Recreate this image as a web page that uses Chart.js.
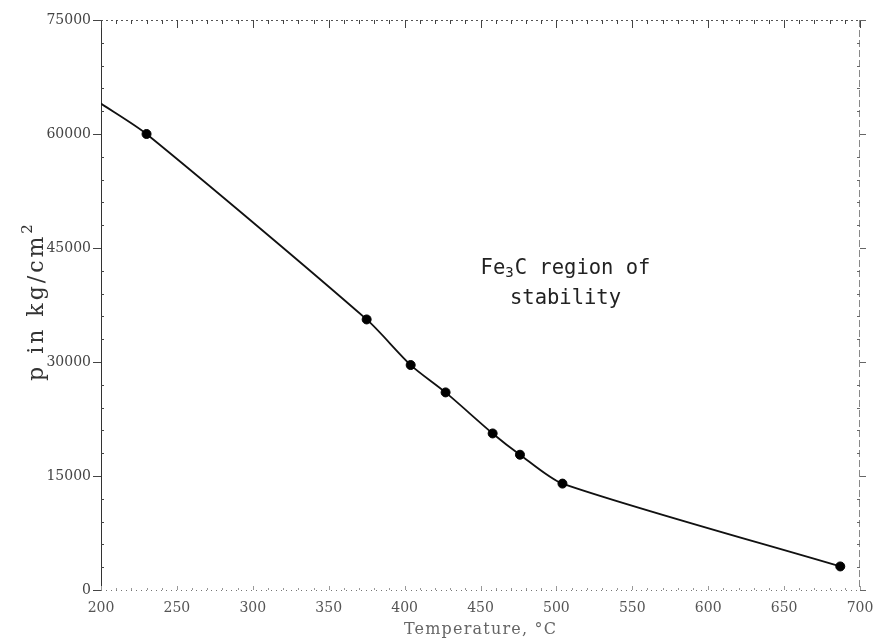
<!DOCTYPE html>
<html>
<head>
<meta charset="utf-8">
<script src="https://cdn.jsdelivr.net/npm/chart.js@4/dist/chart.umd.min.js"></script>
<style>
  html, body { margin: 0; padding: 0; background: #fff; }
  #wrap { width: 874px; height: 639px; position: relative; }
</style>
</head>
<body>
<div id="wrap"><canvas id="chart"></canvas></div>
<script>
// measured points (temperature in °C, pressure in kg/cm2)
const temperatures = [230, 375, 404, 427, 458, 476, 504, 687];
const pressures = [60000, 35600, 29600, 26000, 20600, 17800, 14000, 3100];

// the drawn curve starts at the left edge of the plot
const curveStartT = 200;
const curveStartP = 64000;

// axes
const xMin = 200, xMax = 700, xStep = 50, xMinor = 10;
const yMin = 0, yMax = 75000, yStep = 15000, yMinor = 3000;

const xTitle = 'Temperature, °C';
const yTitle = 'p in kg/cm';
const yTitleSup = '2';

const noteLine1 = ['Fe', '3', 'C region of'];
const noteLine2 = 'stability';
const noteAt = { t: 506, p: 42300 };

const points = temperatures.map((t, i) => ({ x: t, y: pressures[i] }));
const curve = [{ x: curveStartT, y: curveStartP }].concat(points);

const serif = "'DejaVu Serif', 'Liberation Serif', serif";

// ===== AXIS FRAME + TICK MARKS =====
const frame = {
  id: 'frame',
  beforeDatasetsDraw(chart) {
    const { ctx, chartArea: a, scales: { x, y } } = chart;
    ctx.save();
    ctx.lineWidth = 1;

    // left axis, solid
    ctx.strokeStyle = '#333';
    ctx.beginPath();
    ctx.moveTo(a.left + 0.5, a.top);
    ctx.lineTo(a.left + 0.5, a.bottom);
    ctx.stroke();

    // top axis, fine dots
    ctx.strokeStyle = '#555';
    ctx.setLineDash([2, 3]);
    ctx.beginPath();
    ctx.moveTo(a.left, a.top + 0.5);
    ctx.lineTo(a.right, a.top + 0.5);
    ctx.stroke();

    // bottom axis, sparse dots
    ctx.strokeStyle = '#777';
    ctx.setLineDash([1, 4]);
    ctx.beginPath();
    ctx.moveTo(a.left, a.bottom + 0.5);
    ctx.lineTo(a.right, a.bottom + 0.5);
    ctx.stroke();

    // right axis, dashed
    ctx.strokeStyle = '#888';
    ctx.setLineDash([7, 3]);
    ctx.beginPath();
    ctx.moveTo(a.right - 0.5, a.top);
    ctx.lineTo(a.right - 0.5, a.bottom);
    ctx.stroke();
    ctx.setLineDash([]);

    // top ticks (pointing down)
    ctx.strokeStyle = '#444';
    for (let v = xMin; v <= xMax; v += xMinor) {
      const px = Math.round(x.getPixelForValue(v)) + 0.5;
      const major = (v - xMin) % xStep === 0;
      ctx.beginPath();
      ctx.moveTo(px, a.top);
      ctx.lineTo(px, a.top + (major ? 8 : 4));
      ctx.stroke();
    }
    // bottom minor ticks
    ctx.strokeStyle = '#999';
    for (let v = xMin; v <= xMax; v += xMinor) {
      const px = Math.round(x.getPixelForValue(v)) + 0.5;
      const major = (v - xMin) % xStep === 0;
      ctx.beginPath();
      ctx.moveTo(px, a.bottom);
      ctx.lineTo(px, a.bottom - (major ? 4 : 2));
      ctx.stroke();
    }

    // left / right ticks
    for (let v = yMin; v <= yMax; v += yMinor) {
      const py = Math.round(y.getPixelForValue(v)) + 0.5;
      const major = v % yStep === 0;
      ctx.strokeStyle = '#444';
      ctx.beginPath();
      if (major) {
        ctx.moveTo(a.left - 8, py);
        ctx.lineTo(a.left, py);
      } else {
        ctx.moveTo(a.left, py);
        ctx.lineTo(a.left + 3, py);
      }
      ctx.stroke();
      ctx.strokeStyle = '#666';
      ctx.beginPath();
      if (major) {
        ctx.moveTo(a.right, py);
        ctx.lineTo(a.right + 6, py);
      } else {
        ctx.moveTo(a.right - 3, py);
        ctx.lineTo(a.right, py);
      }
      ctx.stroke();
    }
    ctx.restore();
  }
};

// ===== AXIS TITLES + TEXT NOTE =====
const texts = {
  id: 'texts',
  afterDraw(chart) {
    const { ctx, chartArea: a, scales: { x, y } } = chart;
    ctx.save();

    // x title
    ctx.letterSpacing = '1.2px';
    ctx.fillStyle = '#666';
    ctx.font = `16px ${serif}`;
    ctx.textAlign = 'center';
    ctx.textBaseline = 'alphabetic';
    ctx.fillText(xTitle, (a.left + a.right) / 2, 634);

    // y title, rotated, with superscript
    ctx.save();
    ctx.translate(43, (a.top + a.bottom) / 2 - 4);
    ctx.rotate(-Math.PI / 2);
    ctx.fillStyle = '#333';
    ctx.letterSpacing = '3px';
    ctx.font = `22px ${serif}`;
    const wMain = ctx.measureText(yTitle).width;
    ctx.font = `15px ${serif}`;
    const wSup = ctx.measureText(yTitleSup).width;
    let px = -(wMain + wSup) / 2;
    ctx.textAlign = 'left';
    ctx.font = `22px ${serif}`;
    ctx.fillText(yTitle, px, 0);
    ctx.font = `15px ${serif}`;
    ctx.fillText(yTitleSup, px + wMain, -11);
    ctx.restore();

    // note in the plot
    ctx.letterSpacing = '0px';
    const cx = x.getPixelForValue(noteAt.t);
    const cy = y.getPixelForValue(noteAt.p);
    const big = "20.5px 'DejaVu Sans Mono', 'Liberation Mono', monospace";
    const small = "14px 'DejaVu Sans Mono', 'Liberation Mono', monospace";
    ctx.fillStyle = '#222';
    ctx.textBaseline = 'middle';
    ctx.textAlign = 'left';
    ctx.font = big;
    const w0 = ctx.measureText(noteLine1[0]).width;
    const w2 = ctx.measureText(noteLine1[2]).width;
    ctx.font = small;
    const w1 = ctx.measureText(noteLine1[1]).width + 1;
    px = cx - (w0 + w1 + w2) / 2;
    ctx.font = big;
    ctx.fillText(noteLine1[0], px, cy);
    px += w0;
    ctx.font = small;
    ctx.fillText(noteLine1[1], px, cy + 5);
    px += w1;
    ctx.font = big;
    ctx.fillText(noteLine1[2], px, cy);
    ctx.textAlign = 'center';
    ctx.fillText(noteLine2, cx, cy + 30);
    ctx.restore();
  }
};

// ===== CHART =====
const ctx = document.getElementById('chart').getContext('2d');
new Chart(ctx, {
  type: 'scatter',
  data: {
    datasets: [
      {
        label: 'measured',
        data: points,
        backgroundColor: '#000',
        borderColor: '#000',
        pointRadius: 4.5,
        showLine: false
      },
      {
        label: 'curve',
        data: curve,
        showLine: true,
        borderColor: '#111',
        borderWidth: 1.8,
        pointRadius: 0,
        tension: 0.25
      }
    ]
  },
  options: {
    responsive: true,
    maintainAspectRatio: false,
    animation: false,
    layout: { padding: { left: 0, top: 20, right: 14, bottom: 0 } },
    plugins: {
      legend: { display: false },
      tooltip: { enabled: false }
    },
    scales: {
      x: {
        type: 'linear',
        min: xMin,
        max: xMax,
        grid: { display: false, drawTicks: false },
        border: { display: false },
        ticks: {
          stepSize: xStep,
          padding: 10,
          color: '#555',
          font: { family: serif, size: 14 },
          maxRotation: 0,
          callback: v => String(v)
        },
        afterFit: s => {
          s.height = 49;
          s.paddingLeft = 0;
          s.paddingRight = 0;
        }
      },
      y: {
        type: 'linear',
        min: yMin,
        max: yMax,
        grid: { display: false, drawTicks: false },
        border: { display: false },
        ticks: {
          stepSize: yStep,
          padding: 10,
          color: '#444',
          font: { family: serif, size: 14 },
          callback: v => String(v)
        },
        afterFit: s => {
          s.width = 101;
          s.paddingTop = 0;
          s.paddingBottom = 0;
        }
      }
    }
  },
  plugins: [frame, texts]
});
</script>
</body>
</html>
